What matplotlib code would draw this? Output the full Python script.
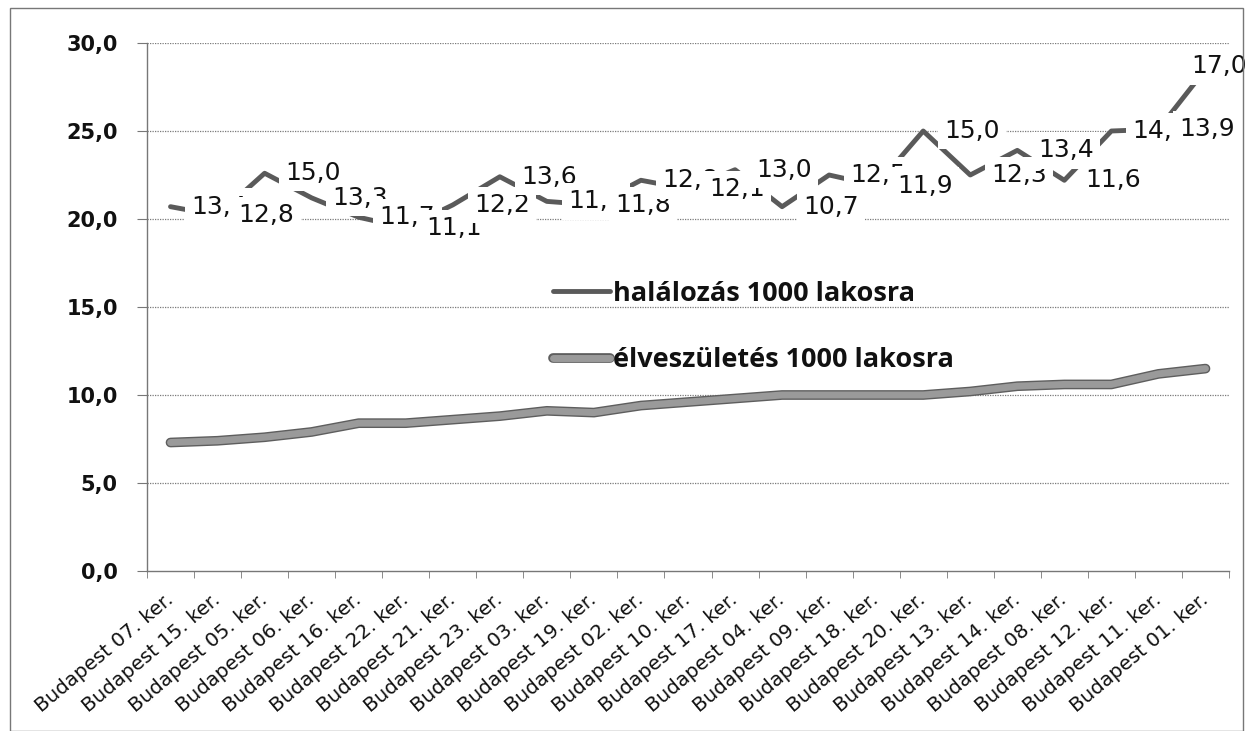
import matplotlib
matplotlib.use("Agg")
import matplotlib.pyplot as plt
import matplotlib.patheffects as pe
import matplotlib.transforms as mtrans
from matplotlib.patches import Rectangle
import numpy as np

plt.rcParams["font.family"] = ["DejaVu Sans"]

districts = ["07", "15", "05", "06", "16", "22", "21", "23", "03", "19", "02", "10",
             "17", "04", "09", "18", "20", "13", "14", "08", "12", "11", "01"]
categories = [f"Budapest {d}. ker." for d in districts]

# élveszületés 1000 lakosra (lower series)
births = [7.3, 7.4, 7.6, 7.9, 8.4, 8.4, 8.6, 8.8, 9.1, 9.0, 9.4, 9.6,
          9.8, 10.0, 10.0, 10.0, 10.0, 10.2, 10.5, 10.6, 10.6, 11.2, 11.5]
# halálozás 1000 lakosra (stacked on top)
deaths = [13.4, 12.8, 15.0, 13.3, 11.7, 11.1, 12.2, 13.6, 11.9, 11.8, 12.8, 12.1,
          13.0, 10.7, 12.5, 11.9, 15.0, 12.3, 13.4, 11.6, 14.4, 13.9, 17.0]

yticks = [0, 5, 10, 15, 20, 25, 30]

W, H = 1250, 731
fig = plt.figure(figsize=(W / 100, H / 100), dpi=100)
ax = fig.add_axes([147 / W, 1 - 571 / H, (1229 - 147) / W, (571 - 43) / H])

x = np.arange(len(categories))
births_a = np.array(births)
total = births_a + np.array(deaths)

ax.set_xlim(-0.5, len(categories) - 0.5)
ax.set_ylim(0, 30)

for yv in yticks[1:]:
    ax.axhline(yv, color="#7a7a7a", lw=0.9, ls=(0, (1, 1)), zorder=1)

l_death, = ax.plot(x, total, color="#5a5a5a", lw=3.5, zorder=2,
                   solid_capstyle="round", solid_joinstyle="round",
                   label="halálozás 1000 lakosra")
l_birth, = ax.plot(x, births_a, color="#9a9a9a", lw=5, zorder=3,
                   solid_capstyle="round", solid_joinstyle="round",
                   path_effects=[pe.Stroke(linewidth=7, foreground="#5e5e5e"), pe.Normal()],
                   label="élveszületés 1000 lakosra")

px = 72 / 100  # points per pixel
n = len(deaths)
for i, (xi, yi, v) in enumerate(zip(x, total, deaths)):
    if i == n - 1:
        off = (-14 * px, 3 * px)
    else:
        off = (21 * px, 0)
    ax.annotate(f"{v:.1f}".replace(".", ","), (xi, yi), xytext=off,
                textcoords="offset points", ha="left", va="center",
                fontsize=18, color="#111111", zorder=5 + i * 0.01,
                bbox=dict(boxstyle="square,pad=0.25", fc="white", ec="none"),
                annotation_clip=False)

ax.set_yticks(yticks)
ax.set_yticklabels([f"{v:.1f}".replace(".", ",") for v in yticks],
                   fontsize=15, fontweight="bold", color="#111111")
ax.set_xticks(x)
ax.set_xticklabels(categories, rotation=40, ha="right", va="center",
                   rotation_mode="anchor", fontsize=14.3, color="#111111")
shift = mtrans.ScaledTranslation(6 / 100, 0, fig.dpi_scale_trans)
for lab in ax.get_xticklabels():
    lab.set_transform(lab.get_transform() + shift)
ax.set_xticks(np.arange(-0.5, len(categories)), minor=True)
ax.tick_params(axis="x", which="major", length=0, pad=19)
ax.tick_params(axis="x", which="minor", length=5, color="#777777", direction="out")
ax.tick_params(axis="y", length=7, color="#777777", direction="out", pad=14)

for s in ["top", "right"]:
    ax.spines[s].set_visible(False)
for s in ["left", "bottom"]:
    ax.spines[s].set_color("#777777")
    ax.spines[s].set_linewidth(1.0)

leg = ax.legend(handles=[l_death, l_birth], loc="center left",
                bbox_to_anchor=(553 / W, 1 - 327 / H), bbox_transform=fig.transFigure,
                frameon=False, prop={"family": "Open Sans", "weight": "bold", "size": 19.5},
                handlelength=2.1, handletextpad=0.1, labelspacing=1.5,
                borderpad=0, borderaxespad=0)
for t in leg.get_texts():
    t.set_color("#111111")

fig.patches.append(Rectangle((10 / W, 0), (1243 - 10) / W, 1 - 8 / H,
                             transform=fig.transFigure, fill=False,
                             ec="#777777", lw=1.0, zorder=0))

fig.savefig("out.png", dpi=100, facecolor="white")
